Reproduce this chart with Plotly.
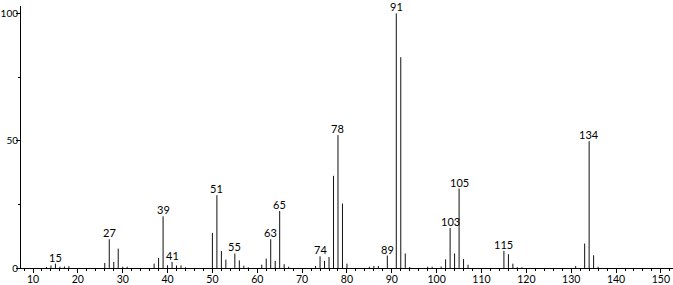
import plotly.graph_objects as go

mz = [13, 14, 15, 16, 17, 18, 26, 27, 28, 29, 30, 31,
      37, 38, 39, 40, 41, 42, 43, 44,
      50, 51, 52, 53, 55, 56, 57, 58,
      61, 62, 63, 64, 65, 66, 67,
      73, 74, 75, 76, 77, 78, 79, 80,
      85, 86, 87, 89, 91, 92, 93, 94,
      98, 99, 101, 102, 103, 104, 105, 106, 107,
      115, 116, 117, 118, 119,
      131, 133, 134, 135, 136]
intensity = [0.4, 1.0, 1.7, 0.5, 0.6, 0.7, 2.0, 11.3, 2.4, 7.6, 0.5, 0.5,
             1.7, 3.9, 20.3, 1.1, 2.4, 1.0, 1.0, 0.3,
             13.8, 28.6, 6.7, 3.3, 5.7, 3.0, 0.9, 0.3,
             1.3, 3.7, 11.3, 2.8, 22.4, 1.5, 0.5,
             0.8, 4.6, 2.8, 4.3, 36.2, 52.2, 25.3, 1.7,
             0.5, 0.8, 0.8, 4.9, 100, 82.8, 5.7, 0.4,
             0.5, 0.5, 0.6, 3.4, 15.7, 5.7, 31.2, 3.5, 1.3,
             6.7, 5.4, 1.7, 0.3, 0.3,
             0.8, 9.6, 49.8, 5.0, 0.5]
labelled = [15, 27, 39, 41, 51, 55, 63, 65, 74, 78, 89, 91, 103, 105, 115, 134]

xs, ys = [], []
for m, v in zip(mz, intensity):
    xs += [m, m, None]
    ys += [0, v, None]

fig = go.Figure()
fig.add_trace(go.Scatter(x=xs, y=ys, mode="lines",
                         line=dict(color="#111111", width=1),
                         hoverinfo="skip", showlegend=False, cliponaxis=False))

lookup = dict(zip(mz, intensity))
for m in labelled:
    fig.add_annotation(x=m, y=lookup[m], text=str(m), showarrow=False,
                       yanchor="bottom", yshift=-2,
                       font=dict(family="Lato, DejaVu Sans, sans-serif", size=11, color="black"))

font = dict(family="Lato, DejaVu Sans, sans-serif", size=10.5, color="black")
yfont = dict(family="Lato, DejaVu Sans, sans-serif", size=10, color="black")
fig.update_layout(
    width=673, height=285,
    margin=dict(l=21, r=0, t=6, b=17),
    paper_bgcolor="white", plot_bgcolor="white",
    font=font,
    xaxis=dict(range=[7.32, 152.7], showgrid=False, zeroline=False, automargin=False,
               showline=True, linecolor="black", linewidth=1,
               ticks="outside", ticklen=4, tickcolor="black",
               tick0=0, dtick=10, tickfont=font, ticklabelstandoff=-3,
               minor=dict(ticks="outside", ticklen=2, tickcolor="black", dtick=2)),
    yaxis=dict(range=[0, 102.9], showgrid=False, zeroline=False, automargin=False,
               showline=True, linecolor="black", linewidth=1,
               ticks="outside", ticklen=4, tickcolor="black",
               tickvals=[0, 50, 100], tickfont=yfont, ticklabelstandoff=-4,
               minor=dict(ticks="outside", ticklen=2, tickcolor="black",
                          tickvals=[25, 75])),
)
fig.write_html("out.html")
